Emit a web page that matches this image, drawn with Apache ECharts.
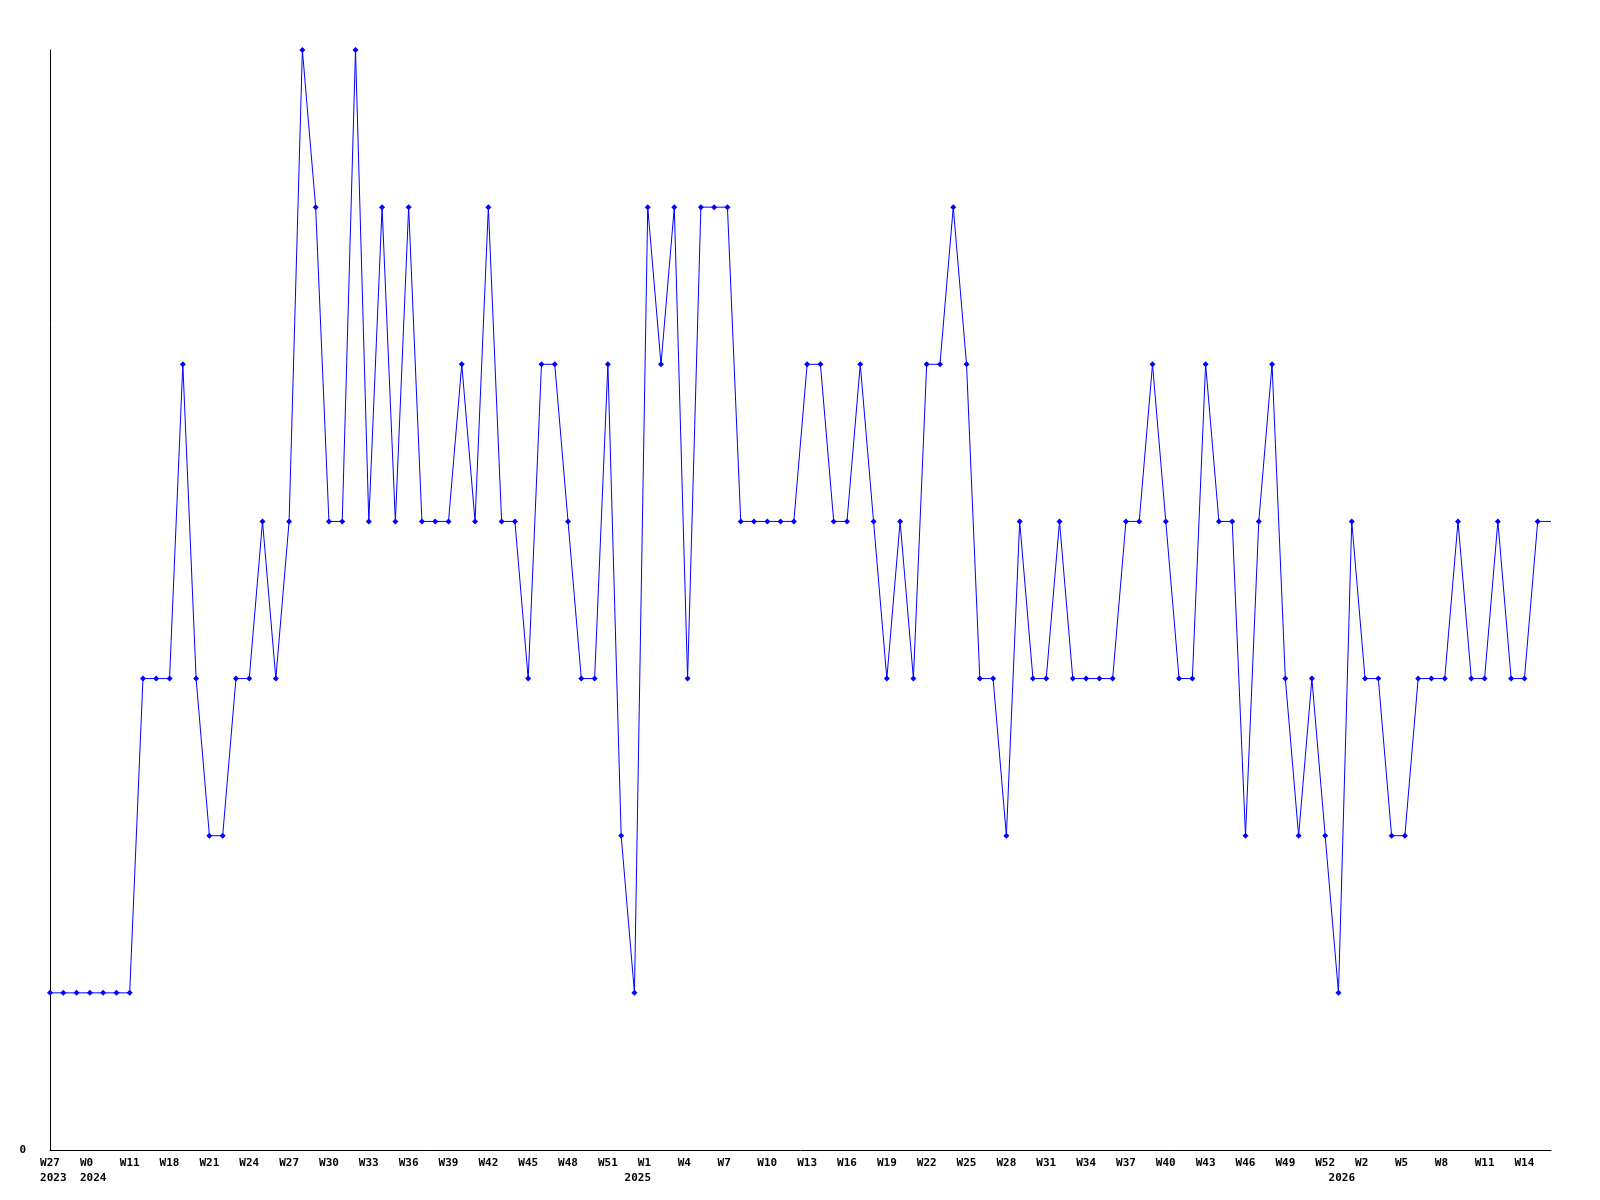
<!DOCTYPE html>
<html>
<head>
<meta charset="utf-8">
<script src="https://cdn.jsdelivr.net/npm/echarts@6/dist/echarts.min.js"></script>
<style>
html,body{margin:0;padding:0;background:#fff;}
#chart{width:1600px;height:1200px;}
</style>
</head>
<body>
<div id="chart"></div>
<script>
const weeks = [
  "W27 2023","W38 2023","W49 2023","W0 2024","W4 2024","W8 2024","W11 2024","W13 2024","W16 2024",
  "W18 2024","W19 2024","W20 2024","W21 2024","W22 2024","W23 2024","W24 2024","W25 2024","W26 2024","W27 2024",
  "W28 2024","W29 2024","W30 2024","W31 2024","W32 2024","W33 2024","W34 2024","W35 2024","W36 2024","W37 2024",
  "W38 2024","W39 2024","W40 2024","W41 2024","W42 2024","W43 2024","W44 2024","W45 2024","W46 2024","W47 2024",
  "W48 2024","W49 2024","W50 2024","W51 2024","W52 2024",
  "W0 2025","W1 2025","W2 2025","W3 2025","W4 2025","W5 2025","W6 2025","W7 2025","W8 2025","W9 2025",
  "W10 2025","W11 2025","W12 2025","W13 2025","W14 2025","W15 2025","W16 2025","W17 2025","W18 2025","W19 2025",
  "W20 2025","W21 2025","W22 2025","W23 2025","W24 2025","W25 2025","W26 2025","W27 2025","W28 2025","W29 2025",
  "W30 2025","W31 2025","W32 2025","W33 2025","W34 2025","W35 2025","W36 2025","W37 2025","W38 2025","W39 2025",
  "W40 2025","W41 2025","W42 2025","W43 2025","W44 2025","W45 2025","W46 2025","W47 2025","W48 2025","W49 2025",
  "W50 2025","W51 2025","W52 2025",
  "W0 2026","W1 2026","W2 2026","W3 2026","W4 2026","W5 2026","W6 2026","W7 2026","W8 2026","W9 2026",
  "W10 2026","W11 2026","W12 2026","W13 2026","W14 2026","W15 2026","W16 2026"
];
const counts = [
  1,1,1,1,1,1,1,3,3,3,
  5,3,2,2,3,3,4,3,4,7,
  6,4,4,7,4,6,4,6,4,4,
  4,5,4,6,4,4,3,5,5,4,
  3,3,5,2,1,6,5,6,3,6,
  6,6,4,4,4,4,4,5,5,4,
  4,5,4,3,4,3,5,5,6,5,
  3,3,2,4,3,3,4,3,3,3,
  3,4,4,5,4,3,3,5,4,4,
  2,4,5,3,2,3,2,1,4,3,
  3,2,2,3,3,3,4,3,3,4,
  3,3,4,4
];
const yMax = 7;

const seriesData = counts.map((v, i) => i === counts.length - 1 ? {value: v, symbol: 'none'} : v);

const yearOf = i => weeks[i].split(' ')[1];
const isFirstOfYear = i => i === 0 || yearOf(i) !== yearOf(i - 1);

const fontBase = {
  color: '#000',
  fontFamily: 'DejaVu Sans Mono',
  fontWeight: 'bold',
  fontSize: 11
};

const chart = echarts.init(document.getElementById('chart'), null, {renderer: 'canvas'});
chart.setOption({
  animation: false,
  backgroundColor: '#ffffff',
  grid: {left: 50, right: 49, top: 50, bottom: 50, containLabel: false},
  xAxis: [{
    type: 'category',
    data: weeks,
    boundaryGap: false,
    axisLine: {show: true, lineStyle: {color: '#000', width: 1}},
    axisTick: {show: false},
    splitLine: {show: false},
    axisLabel: Object.assign({}, fontBase, {
      interval: 2,
      margin: 8,
      formatter: v => v.split(' ')[0].padEnd(3, ' ')
    })
  }, {
    type: 'category',
    data: weeks,
    boundaryGap: false,
    position: 'bottom',
    axisLine: {show: false},
    axisTick: {show: false},
    splitLine: {show: false},
    axisLabel: Object.assign({}, fontBase, {
      interval: (idx) => isFirstOfYear(idx),
      margin: 23,
      formatter: v => ' ' + v.split(' ')[1]
    })
  }],
  yAxis: {
    type: 'value',
    min: 0,
    max: yMax,
    interval: yMax,
    axisLine: {show: true, lineStyle: {color: '#000', width: 1}},
    axisTick: {show: false},
    splitLine: {show: false},
    axisLabel: Object.assign({}, fontBase, {
      margin: 24,
      formatter: v => v === 0 ? '0' : ''
    })
  },
  series: [{
    type: 'line',
    xAxisIndex: 0,
    data: seriesData,
    symbol: 'diamond',
    symbolSize: 6,
    showAllSymbol: true,
    lineStyle: {color: '#0000ff', width: 1},
    itemStyle: {color: '#0000ff'},
    emphasis: {disabled: true}
  }]
});
</script>
</body>
</html>
